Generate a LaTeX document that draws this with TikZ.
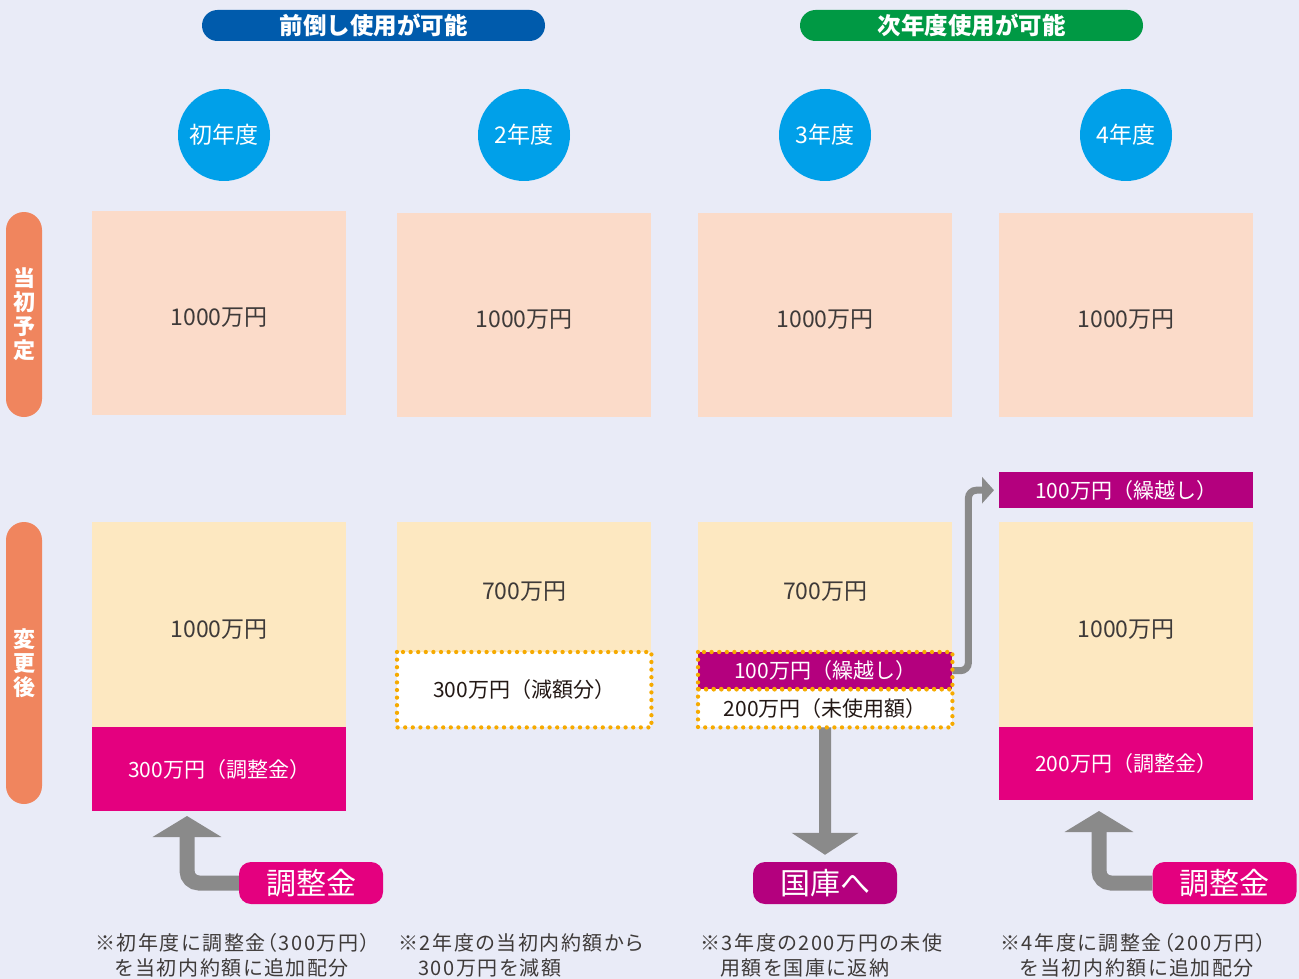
\documentclass[tikz,border=0pt]{standalone}
\usepackage{fontspec}
\setmainfont{Noto Sans CJK JP}
\usetikzlibrary{arrows.meta}
\definecolor{bg}{HTML}{E9EBF7}
\definecolor{bannerblue}{HTML}{005BAC}
\definecolor{bannergreen}{HTML}{009944}
\definecolor{cblue}{HTML}{00A0E9}
\definecolor{salmon}{HTML}{F0855E}
\definecolor{peach}{HTML}{FBDBC9}
\definecolor{cream}{HTML}{FDE8C1}
\definecolor{magenta}{HTML}{E4007F}
\definecolor{purple}{HTML}{B4007E}
\definecolor{dotorange}{HTML}{F6AA00}
\definecolor{arrowgray}{HTML}{8A8A8A}
\definecolor{txtgray}{HTML}{3E3A39}
\definecolor{txtdark}{HTML}{231815}
\begin{document}
\begin{tikzpicture}[x=1pt,y=-1pt,
  banner/.style={rounded corners=15.5pt, minimum width=343pt, minimum height=31pt, inner sep=0pt, text=white, font=\bfseries\fontsize{23.5}{23.5}\selectfont},
  yearc/.style={circle, fill=cblue, minimum size=92pt, inner sep=0pt, text=white, font=\fontsize{23}{23}\selectfont},
  sidepill/.style={fill=salmon, rounded corners=18pt, minimum width=36pt, inner sep=0pt, text=white, align=center, font=\bfseries\fontsize{22}{24}\selectfont},
  cell/.style={anchor=north west, minimum width=254pt, inner sep=0pt},
  plan/.style={cell, fill=peach, minimum height=204pt, text=txtgray, text height=25pt, text depth=0pt, font=\fontsize{23}{23}\selectfont},
  after/.style={cell, fill=cream, text=txtgray, text height=25pt, text depth=0pt, font=\fontsize{23}{23}\selectfont},
  colored/.style={cell, text=white, font=\fontsize{21}{21}\selectfont},
  blank/.style={cell, fill=white, text=txtdark, font=\fontsize{21}{21}\selectfont},
  dotline/.style={draw=dotorange, line width=4.3pt, line cap=round, dash pattern=on 0pt off 7.6pt},
  pill/.style={rounded corners=12pt, minimum width=144pt, minimum height=42pt, inner sep=0pt, text=white, font=\fontsize{30}{30}\selectfont},
  garrow/.style={draw=arrowgray},
  note/.style={anchor=north west, align=left, inner sep=0pt, text=txtgray, font={\fontsize{20}{25}\selectfont\addfontfeature{LetterSpace=8,RawFeature=+palt}}}
]
\fill[bg] (0,0) rectangle (1299,979);
\useasboundingbox (0,0) rectangle (1299,979);

% banners
\node[banner, fill=bannerblue] (b1) at (373.5,25.5) {前倒し使用が可能};
\node[banner, fill=bannergreen] (b2) at (971.5,25.5) {次年度使用が可能};

% year circles
\node[yearc] (y1) at (224,135) {初年度};
\node[yearc] (y2) at (524,135) {2年度};
\node[yearc] (y3) at (825,135) {3年度};
\node[yearc] (y4) at (1126,135) {4年度};

% side labels
\node[sidepill, minimum height=205pt] (s1) at (24,314.5) {当\\初\\予\\定};
\node[sidepill, minimum height=282pt] (s2) at (24,663) {変\\更\\後};

% original plan
\node[plan] (t1) at (92,211) {1000万円};
\node[plan] (t2) at (397,213) {1000万円};
\node[plan] (t3) at (698,213) {1000万円};
\node[plan] (t4) at (999,213) {1000万円};

% after change
\node[after, minimum height=205pt] (c1) at (92,522) {1000万円};
\node[colored, fill=magenta, minimum height=84pt] (m1) at (92,727) {300万円（調整金）};

\node[after, minimum height=130pt] (c2) at (397,522) {700万円};
\node[blank, minimum height=75pt] (d2) at (397,652) {300万円（減額分）};

\node[after, minimum height=130pt] (c3) at (698,522) {700万円};
\node[colored, fill=purple, minimum height=37pt] (p3) at (698,652) {100万円（繰越し）};
\node[blank, minimum height=38pt] (w3) at (698,689) {200万円（未使用額）};

\node[colored, fill=purple, minimum height=36pt] (q4) at (999,472) {100万円（繰越し）};
\node[after, minimum height=205pt] (c4) at (999,522) {1000万円};
\node[colored, fill=magenta, minimum height=73pt] (m4) at (999,727) {200万円（調整金）};

% pills
\node[pill, fill=magenta] (a1) at (311,883) {調整金};
\node[pill, fill=purple] (k3) at (825,883) {国庫へ};
\node[pill, fill=magenta] (a4) at (1224.5,883) {調整金};

% arrows
\coordinate (u1) at (187,811);
\coordinate (u4) at (1099,800);
\draw[garrow, line width=7pt, rounded corners=8pt, -{Triangle[length=12pt,width=26pt,fill=arrowgray]}, shorten >=5pt] (p3.east) -- ++(16,0) |- (q4.west);
\draw[garrow, line width=12pt, -{Triangle[length=22pt,width=66pt,fill=arrowgray]}, shorten >=7pt] (w3.south) -- (k3.north);
\draw[garrow, line width=15pt, rounded corners=12pt, -{Triangle[length=21pt,width=68pt,fill=arrowgray]}, shorten >=5pt] (a1.west) -| (u1);
\draw[garrow, line width=15pt, rounded corners=12pt, -{Triangle[length=21pt,width=68pt,fill=arrowgray]}, shorten >=11pt] (a4.west) -| (u4);

% dotted outlines
\draw[dotline] (d2.north west) rectangle (d2.south east);
\draw[dotline] (p3.north west) rectangle (p3.south east);
\draw[dotline] (w3.north west) rectangle (w3.south east);

% notes
\node[note] (n1) at (95,933) {※初年度に調整金（300万円）\\\hspace*{20pt}を当初内約額に追加配分};
\node[note] (n2) at (398,933) {※2年度の当初内約額から\\\hspace*{20pt}300万円を減額};
\node[note] (n3) at (700,933) {※3年度の200万円の未使\\\hspace*{20pt}用額を国庫に返納};
\node[note] (n4) at (1000,933) {※4年度に調整金（200万円）\\\hspace*{20pt}を当初内約額に追加配分};
\end{tikzpicture}
\end{document}
